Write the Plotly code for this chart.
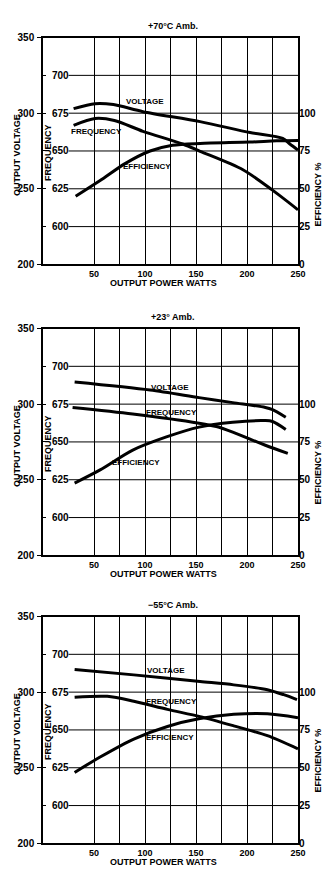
import plotly.graph_objects as go

# ---- data: output power (W) vs voltage (V), frequency (Hz), efficiency (%) ----
panel_titles = ["+70°C Amb.", "+23° Amb.", "\u221255°C Amb."]

# +70 °C ambient
w70_volt = [30, 51, 69, 98, 154, 203, 235, 242, 250]
volt_70 = [303, 306.3, 305.7, 301, 294.4, 287.2, 283.3, 279.6, 275.6]
w70_freq = [30, 51, 70, 98, 137, 154, 196, 225, 250]
freq_70 = [667, 671.5, 670.2, 663, 654.6, 649.8, 637.6, 624.1, 611.1]
w70_eff = [32, 56, 80, 105, 127, 154, 203, 229, 250]
eff_70 = [45, 55.4, 66.5, 75, 78.8, 80, 80.9, 81.7, 82]

# +23 °C ambient
w23_volt = [31, 105, 153, 186, 218, 225, 238]
volt_23 = [314.6, 309.3, 304.3, 301, 297.8, 296.3, 291.3]
w23_freq = [29, 88, 153, 170, 186, 218, 240]
freq_23 = [672.8, 668.5, 662.4, 660.2, 656.5, 647.8, 642.4]
w23_eff = [31, 56, 88, 121, 153, 186, 218, 225, 238]
eff_23 = [47.8, 56.5, 69.6, 78.3, 84.8, 88, 89.1, 88.5, 83.3]

# -55 °C ambient
w55_volt = [31, 89, 154, 187, 220, 236, 249]
volt_55 = [315, 311.4, 307, 304.8, 301.6, 298.3, 295.1]
w55_freq = [31, 63, 89, 122, 154, 187, 220, 250]
freq_55 = [671.6, 672.2, 669, 663.6, 658.8, 652.7, 646.2, 637.5]
w55_eff = [31, 56, 89, 122, 154, 187, 220, 250]
eff_55 = [46.9, 57.1, 69, 77.3, 82.5, 85.3, 85.7, 83.1]

panels = [
    (w70_volt, volt_70, w70_freq, freq_70, w70_eff, eff_70),
    (w23_volt, volt_23, w23_freq, freq_23, w23_eff, eff_23),
    (w55_volt, volt_55, w55_freq, freq_55, w55_eff, eff_55),
]

# curve label positions (watts, volts) per panel
label_pos = [
    {"VOLTAGE": (100, 308), "FREQUENCY": (52, 288), "EFFICIENCY": (102, 264.6)},
    {"VOLTAGE": (124.5, 310.9), "FREQUENCY": (125.5, 294.6), "EFFICIENCY": (91, 261.3)},
    {"VOLTAGE": (120.6, 314.1), "FREQUENCY": (125.5, 293.9), "EFFICIENCY": (124.5, 269.8)},
]

x_ticks = [25, 50, 75, 100, 125, 150, 175, 200, 225, 250]
x_ticktext = ["", "50", "", "100", "", "150", "", "200", "", "250"]
volt_ticks = [200, 250, 300, 350]
freq_ticks = [600, 625, 650, 675, 700]
eff_ticks = [0, 25, 50, 75, 100]
grid_volts = [225, 250, 275, 300, 325]

# pixel extents of each plot area (top, bottom) in an 875 px tall page
H = 875
plot_px = [(32, 262), (327, 557), (619, 849)]
eff_title_shift = [44, 31, 31]

FONT = "Liberation Sans"
tick_font = dict(family=FONT, size=10, color="black", weight="bold")
xtick_font = dict(family=FONT, size=9, color="black", weight="bold")
lbl_font = dict(family=FONT, size=8, color="black", weight="bold")
title_font = dict(family=FONT, size=9, color="black", weight="bold")

fig = go.Figure()
layout = dict(
    width=335, height=H,
    margin=dict(l=43, r=37, t=0, b=0),
    paper_bgcolor="white", plot_bgcolor="white",
    showlegend=False,
    font=dict(family=FONT, color="black"),
)
shapes = []
annotations = []
line_style = dict(color="black", width=3, shape="spline", smoothing=0.8)

for i, (wv, v, wf, f, we, e) in enumerate(panels):
    xn = "" if i == 0 else str(i + 1)
    yv, yf, ye = 3 * i + 1, 3 * i + 2, 3 * i + 3
    yvs = "" if yv == 1 else str(yv)
    top_px, bot_px = plot_px[i]
    dom = [1 - bot_px / H, 1 - top_px / H]

    fig.add_trace(go.Scatter(x=wv, y=v, mode="lines", line=line_style,
                             xaxis="x" + xn, yaxis="y" + yvs))
    fig.add_trace(go.Scatter(x=wf, y=f, mode="lines", line=line_style,
                             xaxis="x" + xn, yaxis="y" + str(yf)))
    fig.add_trace(go.Scatter(x=we, y=e, mode="lines", line=line_style,
                             xaxis="x" + xn, yaxis="y" + str(ye)))

    layout["xaxis" + xn] = dict(
        domain=[0, 1], anchor="y" + yvs, range=[0, 250],
        tickvals=x_ticks, ticktext=x_ticktext, ticks="", ticklen=0,
        showgrid=True, gridcolor="black", gridwidth=1,
        showline=True, mirror=True, linecolor="black", linewidth=1.5,
        tickfont=xtick_font, zeroline=False, fixedrange=True,
        ticklabelstandoff=0,
    )
    layout["yaxis" + yvs] = dict(
        domain=dom, anchor="x" + xn, range=[200, 350],
        tickvals=volt_ticks, ticks="outside", ticklen=4, tickcolor="black",
        showgrid=False, zeroline=False,
        showline=True, mirror=True, linecolor="black", linewidth=1.5,
        tickfont=tick_font, ticklabelstandoff=1,
    )
    layout["yaxis" + str(yf)] = dict(
        overlaying="y" + yvs, anchor="x" + xn, side="left", range=[575, 725],
        tickvals=freq_ticks, ticks="inside", ticklen=3, tickcolor="black",
        ticklabelposition="inside", ticklabelstandoff=5,
        showgrid=False, zeroline=False, showline=False, tickfont=tick_font,
    )
    layout["yaxis" + str(ye)] = dict(
        overlaying="y" + yvs, anchor="x" + xn, side="right", range=[0, 150],
        tickvals=eff_ticks, ticks="", ticklabelstandoff=0,
        showgrid=False, zeroline=False, showline=False, tickfont=tick_font,
    )

    # horizontal grid runs from the first vertical grid line to the right edge
    for gv in grid_volts:
        shapes.append(dict(type="line", xref="x" + xn, yref="y" + yvs,
                           x0=x_ticks[0], x1=250, y0=gv, y1=gv,
                           line=dict(color="black", width=1), layer="below"))

    for name, (lx, ly) in label_pos[i].items():
        annotations.append(dict(text=name, x=lx, y=ly, xref="x" + xn, yref="y" + yvs,
                                showarrow=False, font=lbl_font))

    mid_px = (top_px + bot_px) / 2
    common = dict(xref="paper", yref="paper", showarrow=False,
                  xanchor="center", yanchor="middle")
    annotations += [
        dict(text=panel_titles[i], x=(173 - 43) / 255, y=1 - (top_px - 12) / H,
             font=title_font, **common),
        dict(text="OUTPUT POWER WATTS", x=(163 - 43) / 255, y=1 - (bot_px + 19) / H,
             font=title_font, **common),
        dict(text="OUTPUT VOLTAGE", x=(17 - 43) / 255, y=1 - (mid_px + 4) / H,
             textangle=-90, font=title_font, **common),
        dict(text="FREQUENCY", x=(48 - 43) / 255, y=1 - (mid_px + 2) / H,
             textangle=-90, font=title_font, **common),
        dict(text="EFFICIENCY %", x=(318 - 43) / 255,
             y=1 - (mid_px + eff_title_shift[i]) / H,
             textangle=-90, font=title_font, **common),
    ]

layout["shapes"] = shapes
layout["annotations"] = annotations
fig.update_layout(**layout)
fig.write_html("out.html")
